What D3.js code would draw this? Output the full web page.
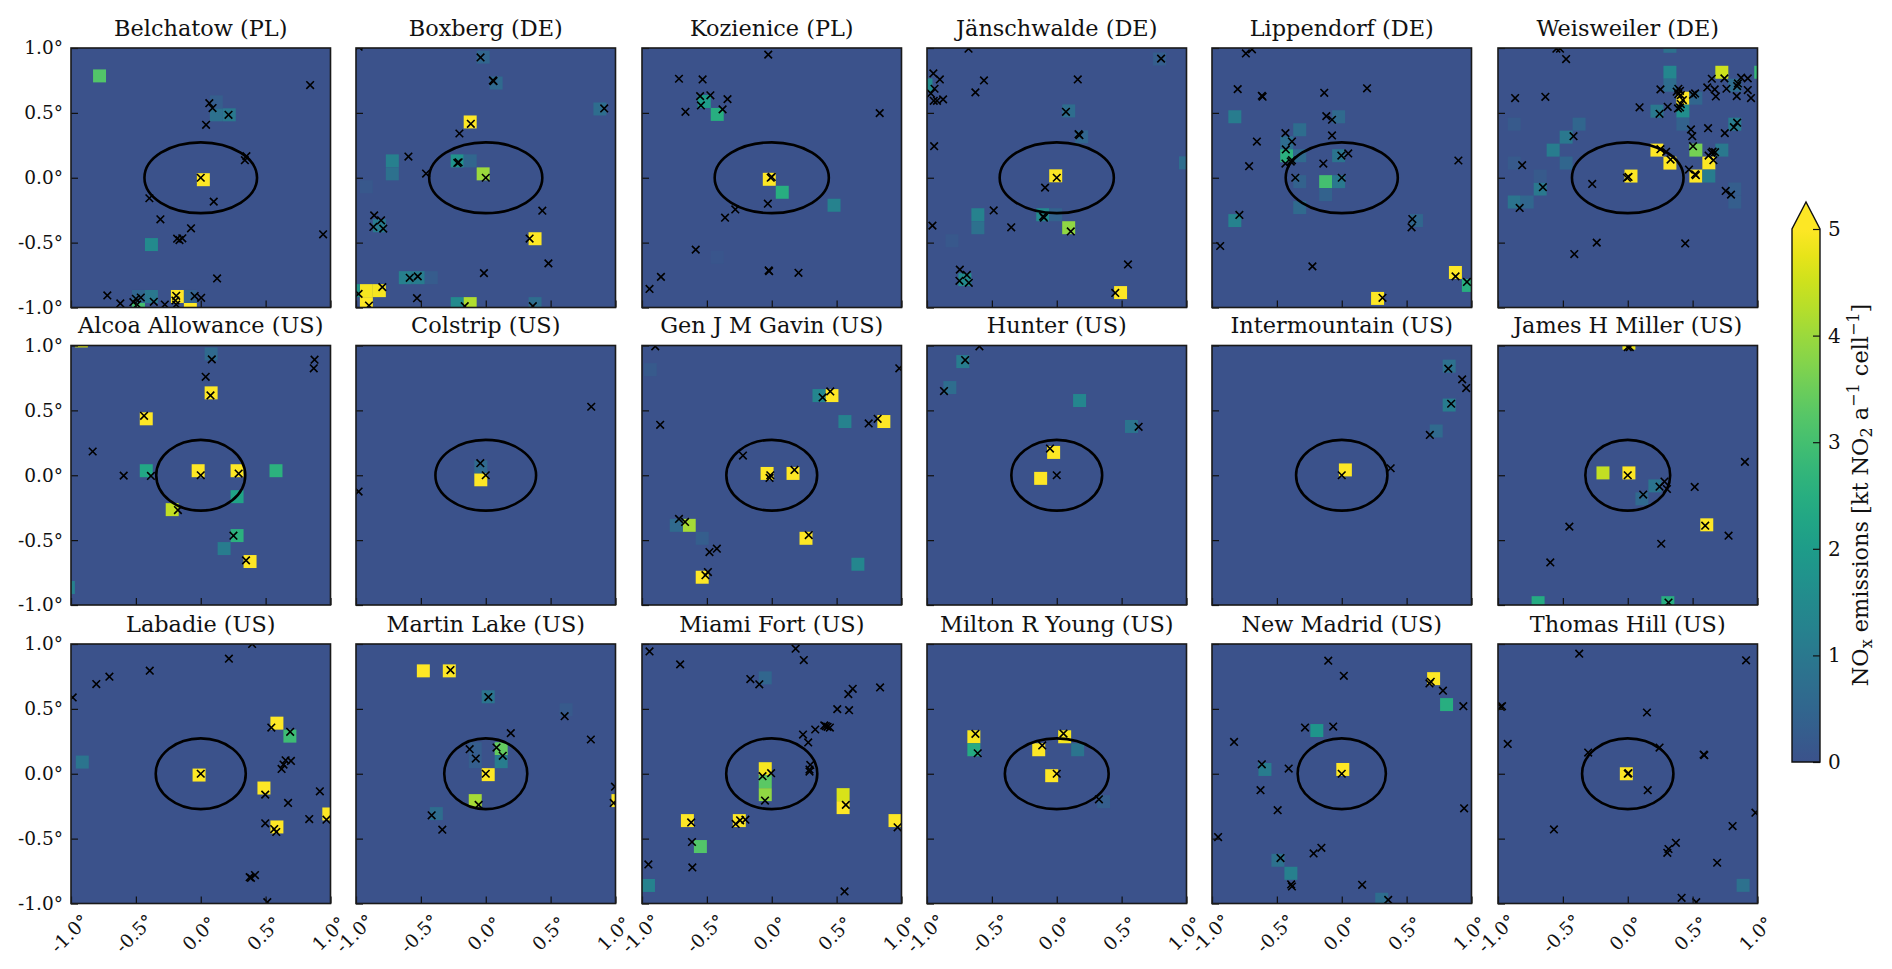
<!DOCTYPE html>
<html>
<head>
<meta charset="utf-8">
<script src="https://cdn.jsdelivr.net/npm/d3@7/dist/d3.min.js"></script>
<style>
  html, body { margin: 0; padding: 0; background: #fff; }
  svg { display: block; }
  text { font-family: "DejaVu Serif", serif; fill: #111; }
</style>
</head>
<body>
<svg id="chart" width="1892" height="969"></svg>
<script>
const stations = [
  'Belchatow (PL)', 'Boxberg (DE)', 'Kozienice (PL)', 'Jänschwalde (DE)', 'Lippendorf (DE)', 'Weisweiler (DE)',
  'Alcoa Allowance (US)', 'Colstrip (US)', 'Gen J M Gavin (US)', 'Hunter (US)', 'Intermountain (US)', 'James H Miller (US)',
  'Labadie (US)', 'Martin Lake (US)', 'Miami Fort (US)', 'Milton R Young (US)', 'New Madrid (US)', 'Thomas Hill (US)'
];

// longitude half-width of the 30 km ring around each station, degrees
const ringLon = [.434, .436, .44, .44, .432, .43, .343, .388, .35, .35, .352, .327, .347, .32, .351, .4, .34, .352];
const ringLat = .273;

const tickValues = [-1, -.5, 0, .5, 1];
const colorTicks = [0, 1, 2, 3, 4, 5];

// emission grid cells per station: [lon, lat, kt NO2] at the cell centre
const cells = [
  [[.02,-.015,5],[-.78,.785,3.2],[.12,.485,.8],[.22,.485,1],[.12,.585,.3],[-.38,-.515,1.5],[-.18,-.915,5],[-.08,-1.015,5],[-.38,-.915,1],[-.48,-.915,.5],[-.48,-1.015,3],[-.08,-.915,.4]],
  [[-.12,.43,5],[-.02,.03,4],[-.22,.13,1.7],[-.12,.13,.5],[-.72,.13,1.2],[-.72,.03,.8],[-.02,.93,.5],[.08,.73,.6],[.88,.53,.7],[.38,-.47,5],[-.82,-.37,1.1],[-.92,-.07,.15],[-.62,-.77,1.2],[-.52,-.77,1.1],[-.42,-.77,.25],[-.92,-.87,4.9],[-.82,-.87,4.9],[-.92,-.97,5],[-.22,-.97,1.5],[-.12,-.97,4.2],[.38,-.97,.7],[-1.02,-.87,1.8]],
  [[-.019,-.012,5],[.081,-.112,2.5],[.48,-.212,1.3],[-.42,.488,2.5],[-.52,.588,2],[-.42,-.612,.1]],
  [[-.008,.015,5],[.092,-.385,3.9],[.092,.515,.7],[.192,.315,.5],[.992,.115,.7],[-.608,-.285,1.3],[-.608,-.385,.8],[-.808,-.485,.15],[-.108,-.285,1.5],[-.008,-.285,.4],[.492,-.885,5],[-.708,-.785,1.5],[.792,.915,.3],[-1.008,.715,1.5]],
  [[-.124,-.03,3],[-.024,-.03,1],[.276,-.93,5],[.876,-.73,5],[.976,-.83,2.5],[-.124,-.13,.4],[-.324,-.23,.6],[-.324,-.03,.4],[-.424,.17,2.6],[-.324,.17,.6],[-.424,.27,.7],[-.324,.37,.7],[-.024,.17,.9],[-.024,.47,.6],[.576,-.33,.5],[-.824,.47,1.1],[-.824,-.33,1.3]],
  [[.025,.013,5],[.225,.213,5],[.325,.113,5],[.525,.013,5],[.625,.113,5],[.525,.213,3.6],[.725,.213,1],[.625,.013,1.1],[.425,.613,5],[.725,.813,4.5],[.325,.813,1.4],[.325,.713,.7],[.425,.513,1.6],[.425,.413,.4],[.225,.513,1],[.525,.613,.5],[.325,1.013,.8],[.825,.713,.7],[1.025,.813,2.8],[.825,.413,1.1],[-.375,.413,.5],[-.475,.313,1],[-.575,.213,1.1],[-.475,.113,.5],[-.675,-.087,1],[-.875,-.187,.9],[-.775,-.187,.5],[-.875,.413,.2],[-.875,.113,.2],[-.675,.013,.2],[.825,-.087,.3],[.825,-.187,.3]],
  [[-.02,.035,5],[.28,.035,5],[-.42,.035,2.3],[.58,.035,2.6],[.28,-.165,2.2],[-.22,-.265,4.4],[.28,-.465,2.6],[.18,-.565,1.1],[.38,-.665,5],[.08,.635,5],[-.42,.435,5],[.08,.935,.6],[-.92,1.035,4.6],[-1.02,-.865,1.2]],
  [[-.038,-.035,5],[-.038,.065,.6]],
  [[-.036,.014,5],[.164,.014,5],[.264,-.486,5],[-.636,-.386,4.1],[-.736,-.386,.6],[-.536,-.486,.3],[-.536,-.786,5],[.464,.614,5],[.364,.614,1.4],[.564,.414,1.3],[.864,.414,5],[.664,-.686,1.4],[-.936,.814,.2]],
  [[-.024,.176,5],[-.124,-.024,5],[.176,.576,1.4],[.576,.376,.9],[-.724,.876,1.1],[-.824,.676,.7]],
  [[.028,.041,5],[.828,.841,.8],[.828,.541,1.1],[.728,.341,.6]],
  [[.009,.018,5],[-.191,.018,4.4],[.209,-.082,.9],[.109,-.182,.6],[.609,-.382,5],[-.691,-.982,2.4],[.309,-.982,2.5],[.009,1.018,4.8]],
  [[-.013,-.01,5],[.587,.39,5],[.687,.29,2.9],[.487,-.11,5],[.587,-.41,5],[.987,-.31,5],[-.913,.09,.9]],
  [[-.481,.793,5],[-.281,.793,5],[.019,.593,.9],[.019,-.007,5],[.119,.193,3.4],[.119,.093,1.1],[-.081,-.207,4.1],[-.381,-.307,.7],[-.081,.193,.3],[-.081,.093,.3],[1.019,-.207,5],[.619,.493,.2]],
  [[-.05,.039,4.9],[-.05,-.061,3.3],[-.05,-.161,3.9],[.55,-.161,4.6],[.55,-.261,5],[-.65,-.361,5],[-.25,-.361,5],[.95,-.361,5],[-.55,-.561,3.2],[-.95,-.861,1.3],[-.05,.739,.5]],
  [[-.039,-.015,5],[-.139,.185,5],[.061,.285,4.9],[.161,.185,.9],[-.639,.285,4.9],[-.639,.185,2.4],[.361,-.215,.3]],
  [[.008,.033,5],[.708,.733,5],[.808,.533,2.5],[-.192,.333,1.8],[-.592,.033,1.1],[-.492,-.667,.8],[-.392,-.767,1.2],[.308,-.967,.7]],
  [[-.011,0,5],[.889,-.86,.8]]
];

// point sources per station: [lon, lat]
const sources = [
  [[.843,.714],[.066,.575],[.091,.537],[.214,.485],[.041,.408],[.352,.166],[.34,.135],[0,0],[.1,-.184],[-.396,-.158],[-.311,-.32],[-.075,-.39],[-.182,-.47],[-.142,-.467],[-.164,-.48],[.943,-.436],[.126,-.776],[-.72,-.907],[-.62,-.969],[-.519,-.959],[-.5,-.933],[-.462,-.923],[-.49,-.977],[-.362,-.956],[-.277,-.977],[-.189,-.91],[-.195,-.946],[-.189,-.977],[-.047,-.912],[.003,-.925]],
  [[-.04,.927],[.055,.75],[.06,.745],[.913,.534],[-.115,.416],[-.203,.341],[-.596,.163],[-.219,.114],[-.209,.119],[-.46,.032],[0,0],[.436,-.254],[-.86,-.29],[-.807,-.328],[-.866,-.379],[-.79,-.392],[.338,-.469],[.483,-.66],[-.014,-.735],[-.586,-.771],[-.524,-.76],[-.797,-.843],[-.98,-.895],[-.53,-.928],[-.9,-.985],[-.162,-.99],[.363,-.99],[-.98,1.01]],
  [[-.027,.949],[-.715,.763],[-.533,.758],[-.552,.629],[-.473,.635],[-.546,.557],[-.341,.606],[-.379,.527],[-.665,.508],[.832,.498],[-.008,0],[0,.006],[-.03,-.2],[-.281,-.244],[-.36,-.308],[-.586,-.554],[-.024,-.714],[-.02,-.72],[.206,-.733],[-.854,-.764],[-.942,-.857]],
  [[-.68,.995],[.804,.918],[-.951,.804],[-.901,.758],[-.561,.75],[.162,.758],[-.942,.686],[-.97,.65],[-.627,.658],[-.948,.593],[-.923,.593],[-.876,.604],[.071,.508],[.168,.336],[.175,.328],[-.945,.243],[0,0],[-.09,-.076],[-.486,-.252],[-.105,-.298],[-.099,-.308],[-.958,-.369],[-.351,-.382],[.108,-.414],[.549,-.668],[-.747,-.708],[-.693,-.749],[-.75,-.794],[-.678,-.81],[.451,-.888]],
  [[-.739,.958],[-.692,.99],[-.802,.683],[-.616,.632],[-.61,.625],[-.654,.279],[-.714,.089],[-.789,-.287],[-.937,-.526],[-.135,.655],[.195,.689],[-.119,.475],[-.075,.447],[-.075,.326],[-.434,.344],[-.384,.279],[-.431,.218],[-.384,.135],[-.393,.125],[-.434,.109],[-.142,.109],[-.003,.171],[.05,.187],[-.358,0],[0,0],[.899,.133],[.544,-.318],[.538,-.382],[-.226,-.683],[.314,-.925],[.877,-.76],[.965,-.803]],
  [[-.522,.995],[-.55,.995],[-.475,.915],[-.868,.614],[-.635,.624],[.252,.681],[.39,.686],[.403,.67],[.377,.663],[.409,.637],[.39,.644],[.519,.65],[.503,.64],[.648,.763],[.745,.766],[.613,.696],[.67,.681],[.761,.686],[.679,.627],[.849,.727],[.843,.707],[.874,.771],[.925,.766],[.925,.676],[.84,.629],[.95,.614],[.091,.543],[.308,.547],[.245,.493],[.425,.599],[.409,.568],[.387,.534],[.403,.542],[-.418,.32],[.843,.424],[.818,.39],[.619,.382],[.748,.344],[.487,.372],[.497,.32],[.503,.243],[.252,.22],[.296,.2],[.33,.14],[.623,.171],[.654,.202],[.673,.197],[.645,.192],[.66,.135],[.472,.063],[.519,.027],[.525,.02],[-.814,.097],[-.654,-.073],[-.833,-.233],[-.274,-.048],[-.006,0],[.006,.006],[.755,-.102],[.796,-.13],[-.239,-.5],[-.412,-.588],[.443,-.506]],
  [[.085,.893],[.038,.759],[.877,.891],[.871,.824],[.075,.615],[-.437,.458],[-.833,.183],[-.594,-.003],[-.384,-.005],[0,0],[.292,.013],[-.176,-.268],[.252,-.466],[.349,-.656]],
  [[.813,.528],[-.042,.093],[0,0],[-.98,-.126]],
  [[-.898,.994],[.983,.824],[.451,.646],[.392,.6],[.816,.435],[.747,.399],[-.86,.389],[-.222,.152],[.175,.041],[-.011,0],[-.017,-.021],[-.715,-.337],[-.668,-.36],[.285,-.461],[-.423,-.566],[-.48,-.592],[-.492,-.746],[-.511,-.77]],
  [[-.596,.994],[-.706,.888],[-.869,.649],[-.052,.206],[0,0],[.631,.373]],
  [[.821,.821],[.928,.739],[.959,.672],[.843,.551],[.679,.311],[.377,.054],[0,0]],
  [[.016,.988],[0,.988],[.903,.103],[.516,-.09],[.283,-.049],[.245,-.088],[.302,-.106],[.119,-.149],[0,0],[.597,-.389],[-.45,-.396],[.777,-.466],[.258,-.528],[-.597,-.672],[.314,-.981]],
  [[.396,1],[.217,.887],[-.393,.794],[-.704,.748],[-.805,.691],[-.987,.588],[.544,.356],[.689,.323],[0,0],[.654,.104],[.695,.099],[.638,.071],[.623,.037],[.497,-.161],[.673,-.225],[.918,-.135],[.836,-.349],[.969,-.354],[.497,-.382],[.566,-.426],[.582,-.449],[.377,-.797],[.387,-.802],[.418,-.781],[.513,-.99]],
  [[-.272,.799],[.02,.591],[.608,.444],[.193,.313],[.81,.264],[.083,.202],[-.124,.189],[-.077,.117],[.131,.138],[0,0],[-.417,-.32],[-.335,-.431],[-.055,-.24],[.986,-.225],[.996,-.1]],
  [[-.942,.943],[-.706,.843],[.184,.964],[.247,.876],[-.165,.73],[-.096,.689],[.835,.665],[.624,.655],[.59,.614],[.505,.498],[.596,.49],[.405,.372],[.417,.367],[.43,.362],[.448,.356],[.335,.341],[.241,.302],[.281,.241],[.297,.068],[.291,.032],[.291,.017],[-.005,.004],[-.071,-.019],[-.052,-.207],[.571,-.24],[-.621,-.375],[-.203,-.354],[-.244,-.359],[-.278,-.387],[.97,-.413],[-.615,-.526],[-.612,-.722],[-.951,-.699],[.561,-.907]],
  [[-.627,.308],[-.609,.158],[.052,.31],[-.112,.218],[0,0],[.325,-.197]],
  [[-.83,.245],[-.616,.073],[-.626,-.127],[-.953,-.488],[-.104,.871],[.016,.755],[.686,.709],[.676,.696],[.78,.64],[.937,.521],[-.283,.356],[-.066,.364],[-.409,.04],[0,0],[-.494,-.281],[.943,-.266],[-.157,-.571],[-.217,-.614],[-.472,-.65],[-.39,-.853],[-.384,-.869],[.157,-.856],[.358,-.972]],
  [[-.374,.925],[.912,.874],[-.969,.521],[-.978,.516],[.148,.472],[-.925,.23],[.245,.202],[-.305,.163],[.585,.148],[.59,.143],[0,0],[.005,.004],[.154,-.127],[-.569,-.429],[.984,-.3],[.808,-.403],[.371,-.532],[.314,-.58],[.305,-.609],[.689,-.686],[.415,-.956],[.528,-.99]]
];

const colLeft = [71, 356, 642, 927, 1212, 1498];
const rowTop = [48, 345.5, 644];
const panelSize = 259.5;
const crossHalf = 3.8;
const cellSize = 0.1;

const svg = d3.select('#chart');
const defs = svg.append('defs');

const x = d3.scaleLinear().domain([-1, 1]).range([0, panelSize]);
const y = d3.scaleLinear().domain([-1, 1]).range([panelSize, 0]);

// truncated viridis: 0 sits at the dark blue, 5 at the yellow
const color = v => d3.interpolateViridis(.25 + .15 * Math.min(v, 5));
const background = color(0);
const fmtDeg = d => d3.format('.1f')(d).replace('−', '-') + '°';

defs.append('clipPath').attr('id', 'panel-clip')
  .append('rect').attr('width', panelSize).attr('height', panelSize);

stations.forEach((name, i) => {
  const col = i % 6, row = Math.floor(i / 6);
  const g = svg.append('g')
    .attr('class', 'panel')
    .attr('transform', `translate(${colLeft[col]},${rowTop[row]})`);

  const inner = g.append('g').attr('clip-path', 'url(#panel-clip)');

  inner.append('rect')
    .attr('width', panelSize).attr('height', panelSize)
    .attr('fill', background);

  inner.selectAll('.cell').data(cells[i]).join('rect')
    .attr('class', 'cell')
    .attr('x', d => x(d[0] - cellSize / 2))
    .attr('y', d => y(d[1] + cellSize / 2))
    .attr('width', x(cellSize) - x(0))
    .attr('height', y(0) - y(cellSize))
    .attr('fill', d => color(d[2]));

  // Ring stays round in km, so it is wider than tall in degrees
  inner.append('ellipse')
    .attr('cx', x(0)).attr('cy', y(0))
    .attr('rx', x(ringLon[i]) - x(0))
    .attr('ry', y(0) - y(ringLat))
    .attr('fill', 'none')
    .attr('stroke', '#000')
    .attr('stroke-width', 2.6);

  inner.selectAll('.source').data(sources[i]).join('path')
    .attr('class', 'source')
    .attr('transform', d => `translate(${x(d[0])},${y(d[1])})`)
    .attr('d', `M${-crossHalf},${-crossHalf}L${crossHalf},${crossHalf}M${-crossHalf},${crossHalf}L${crossHalf},${-crossHalf}`)
    .attr('fill', 'none')
    .attr('stroke', '#000')
    .attr('stroke-width', 1.6);

  // Ticks point inward, labels only on the outer edge of the grid
  const xAxis = d3.axisBottom(x).tickValues(tickValues).tickSizeInner(-7).tickSizeOuter(0).tickPadding(0)
    .tickFormat(row === 2 ? fmtDeg : '');
  const yAxis = d3.axisLeft(y).tickValues(tickValues).tickSizeInner(-7).tickSizeOuter(0).tickPadding(8)
    .tickFormat(col === 0 ? fmtDeg : '');

  const gx = g.append('g').attr('transform', `translate(0,${panelSize})`).call(xAxis);
  const gy = g.append('g').call(yAxis);
  gx.select('.domain').remove();
  gy.select('.domain').remove();
  gx.selectAll('line').attr('stroke', '#111').attr('stroke-width', 1.2);
  gy.selectAll('line').attr('stroke', '#111').attr('stroke-width', 1.2);

  gy.selectAll('text')
    .attr('font-size', 18.5)
    .attr('font-family', '"DejaVu Serif", serif');

  if (row === 2) {
    gx.selectAll('text')
      .attr('font-size', 18.5)
      .attr('font-family', '"DejaVu Serif", serif')
      .attr('text-anchor', 'middle')
      .attr('dy', null)
      .attr('y', 0)
      .attr('dominant-baseline', 'central')
      .attr('transform', 'translate(-2,30) rotate(-45)');
  }

  g.append('rect')
    .attr('width', panelSize).attr('height', panelSize)
    .attr('fill', 'none')
    .attr('stroke', '#1a1a1a')
    .attr('stroke-width', 1.6);

  g.append('text')
    .attr('x', panelSize / 2)
    .attr('y', -12.5)
    .attr('text-anchor', 'middle')
    .attr('font-size', 22.4)
    .text(name);
});

// Colour bar with the "extend max" triangle
const cbar = { left: 1792, width: 28, top: 229, bottom: 762, tip: 202 };
const cScale = d3.scaleLinear().domain([0, 5]).range([cbar.bottom, cbar.top]);

const grad = defs.append('linearGradient')
  .attr('id', 'cbar-grad')
  .attr('x1', 0).attr('x2', 0).attr('y1', 1).attr('y2', 0);
grad.selectAll('stop').data(d3.range(0, 5.01, .25)).join('stop')
  .attr('offset', d => d / 5)
  .attr('stop-color', d => color(d));

const gc = svg.append('g');
gc.append('rect')
  .attr('x', cbar.left).attr('y', cbar.top)
  .attr('width', cbar.width).attr('height', cbar.bottom - cbar.top)
  .attr('fill', 'url(#cbar-grad)');

const outlineLine = d3.line();
gc.append('path')
  .attr('d', outlineLine([[cbar.left, cbar.top], [cbar.left + cbar.width / 2, cbar.tip], [cbar.left + cbar.width, cbar.top]]) + 'Z')
  .attr('fill', color(5));
gc.append('path')
  .attr('d', outlineLine([
    [cbar.left, cbar.bottom], [cbar.left, cbar.top], [cbar.left + cbar.width / 2, cbar.tip],
    [cbar.left + cbar.width, cbar.top], [cbar.left + cbar.width, cbar.bottom]
  ]) + 'Z')
  .attr('fill', 'none')
  .attr('stroke', '#111')
  .attr('stroke-width', 1.4);

const cAxis = d3.axisRight(cScale).tickValues(colorTicks).tickFormat(d3.format('d'))
  .tickSizeInner(-7).tickSizeOuter(0).tickPadding(8);
const gca = gc.append('g').attr('transform', `translate(${cbar.left + cbar.width},0)`).call(cAxis);
gca.select('.domain').remove();
gca.selectAll('line').attr('stroke', '#111').attr('stroke-width', 1.2);
gca.selectAll('text').attr('font-size', 20).attr('font-family', '"DejaVu Serif", serif');

const label = svg.append('text')
  .attr('transform', 'translate(1868,495) rotate(-90)')
  .attr('text-anchor', 'middle')
  .attr('font-size', 22.4);
label.append('tspan').text('NO');
label.append('tspan').attr('font-size', 16).attr('dy', 4).text('x');
label.append('tspan').attr('dy', -4).text(' emissions [kt NO');
label.append('tspan').attr('font-size', 16).attr('dy', 4).text('2');
label.append('tspan').attr('dy', -4).text(' a');
label.append('tspan').attr('font-size', 16).attr('dy', -9).text('−1');
label.append('tspan').attr('dy', 9).text(' cell');
label.append('tspan').attr('font-size', 16).attr('dy', -9).text('−1');
label.append('tspan').attr('dy', 9).text(']');
</script>
</body>
</html>
